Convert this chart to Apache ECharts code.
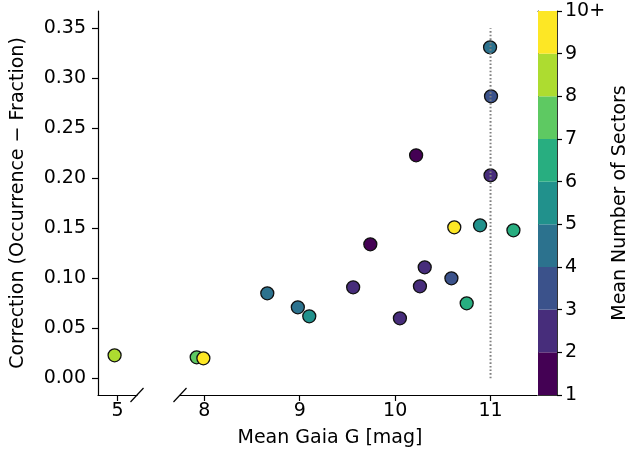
<!DOCTYPE html>
<html>
<head>
<meta charset="utf-8">
<script src="https://cdn.jsdelivr.net/npm/echarts@6/dist/echarts.min.js"></script>
<style>
  html, body { margin: 0; padding: 0; background: #fff; }
  #chart { width: 631px; height: 453px; }
</style>
</head>
<body>
<div id="chart"></div>
<script>
// data
const gaiaG = [4.97, 7.92, 7.99, 8.66, 8.98, 9.10, 9.56, 9.74, 10.05, 10.22,
  10.26, 10.31, 10.59, 10.62, 10.75, 10.89, 10.995, 11.005, 11.0, 11.24]
const correction = [0.023, 0.021, 0.020, 0.085, 0.071, 0.062, 0.091, 0.134, 0.060, 0.223,
  0.092, 0.111, 0.100, 0.151, 0.075, 0.153, 0.331, 0.282, 0.203, 0.148]
const sectors = [8.5, 7.5, 10, 4.5, 4.5, 5.5, 2.5, 1.5, 2.5, 1.5,
  2.5, 2.5, 3.5, 10, 6.5, 5.5, 4.5, 3.5, 2.5, 6.5]

const yTicks = [0, 0.05, 0.10, 0.15, 0.20, 0.25, 0.30, 0.35]
const xTicksLeft = [5]
const xTicksRight = [8, 9, 10, 11]
const binLabels = ['1', '2', '3', '4', '5', '6', '7', '8', '9', '10+']
const viridis9 = ['#440154', '#472d7b', '#3b528b', '#2c728e', '#21918c',
  '#28ae80', '#5ec962', '#addc30', '#fde725']
const cutG = 11 // dotted reference line
const cutTop = 0.35

const font = 'DejaVu Sans'
const fs = 19
const yMin = -0.0167
const yMax = 0.3673

const pts = gaiaG.map((g, i) => [g, correction[i], sectors[i]])
const leftPts = pts.filter(p => p[0] < 6)
const rightPts = pts.filter(p => p[0] >= 6)

const chart = echarts.init(document.getElementById('chart'))

const axisLine = { show: true, onZero: false, lineStyle: { color: '#000', width: 1.2 } }
const tickStyle = { show: true, length: 6, lineStyle: { color: '#000', width: 1.2 } }
const labelStyle = { color: '#000', fontFamily: font, fontSize: fs }
const cbLine = { show: true, onZero: false, lineStyle: { color: '#333', width: 1 } }

const marker = {
  type: 'scatter',
  symbolSize: 13,
  itemStyle: { borderColor: '#111', borderWidth: 1.3, opacity: 1 },
  z: 3
}

chart.setOption({
  animation: false,
  grid: [
    { left: 98, top: 11, width: 39, height: 384 },
    { left: 180, top: 11, width: 357, height: 384 },
    { left: 538, top: 11, width: 20, height: 384 }
  ],
  visualMap: {
    show: false,
    type: 'piecewise',
    dimension: 2,
    seriesIndex: [0, 1],
    pieces: viridis9.map((c, i) => i < 8
      ? { gte: i + 1, lt: i + 2, color: c }
      : { gte: i + 1, color: c })
  },
  xAxis: [
    {
      gridIndex: 0, type: 'value', min: 4.796, max: 5.205,
      axisLine, splitLine: { show: false },
      axisTick: Object.assign({ customValues: xTicksLeft }, tickStyle),
      axisLabel: Object.assign({ customValues: xTicksLeft, margin: 7 }, labelStyle)
    },
    {
      gridIndex: 1, type: 'value', min: 7.745, max: 11.487,
      axisLine, splitLine: { show: false },
      axisTick: Object.assign({ customValues: xTicksRight }, tickStyle),
      axisLabel: Object.assign({ customValues: xTicksRight, margin: 7 }, labelStyle)
    },
    {
      gridIndex: 2, type: 'category', data: ['c'], boundaryGap: true,
      axisLine: cbLine, axisTick: { show: false }, axisLabel: { show: false }
    },
    {
      gridIndex: 2, type: 'category', data: ['c'], position: 'top',
      axisLine: cbLine, axisTick: { show: false }, axisLabel: { show: false }
    }
  ],
  yAxis: [
    {
      gridIndex: 0, type: 'value', min: yMin, max: yMax,
      axisLine, splitLine: { show: false },
      axisTick: Object.assign({ customValues: yTicks }, tickStyle),
      axisLabel: Object.assign({ customValues: yTicks, margin: 12,
        formatter: v => v.toFixed(2) }, labelStyle),
      name: 'Correction (Occurrence \u2212 Fraction)',
      nameLocation: 'middle', nameGap: 70,
      nameTextStyle: { color: '#000', fontFamily: font, fontSize: fs }
    },
    {
      gridIndex: 1, type: 'value', min: yMin, max: yMax, show: false
    },
    {
      gridIndex: 2, type: 'value', min: 0, max: 9, interval: 1, position: 'right',
      axisLine: cbLine, splitLine: { show: false },
      axisTick: { show: true, length: 5, lineStyle: { color: '#000', width: 1.2 } },
      axisLabel: Object.assign({ margin: 8, formatter: v => binLabels[v] }, labelStyle),
      name: 'Mean Number of Sectors',
      nameLocation: 'middle', nameGap: 54,
      nameTextStyle: { color: '#000', fontFamily: font, fontSize: fs }
    },
    {
      gridIndex: 2, type: 'value', min: 0, max: 9, position: 'left',
      axisLine: cbLine, splitLine: { show: false },
      axisTick: { show: false }, axisLabel: { show: false }
    }
  ],
  series: [
    Object.assign({ xAxisIndex: 0, yAxisIndex: 0, data: leftPts }, marker),
    Object.assign({ xAxisIndex: 1, yAxisIndex: 1, data: rightPts }, marker),
    {
      type: 'line', xAxisIndex: 1, yAxisIndex: 1, z: 5,
      data: [[cutG, 0], [cutG, cutTop]],
      symbol: 'none', silent: true,
      lineStyle: { color: '#808080', width: 2, type: [1.6, 2] }
    }
  ].concat(viridis9.map(c => ({
    type: 'bar', xAxisIndex: 2, yAxisIndex: 2, stack: 'cb',
    barWidth: '100%', data: [1], itemStyle: { color: c }, z: 1
  })))
})

// x label and axis-break slashes at the ends of the two x-axis pieces
const pA = chart.convertToPixel({ xAxisIndex: 0, yAxisIndex: 0 }, [5.205, yMin])
const pB = chart.convertToPixel({ xAxisIndex: 1, yAxisIndex: 1 }, [7.745, yMin])
const slashes = [pA, pB].map((p, i) => ({
  id: 'brk' + i,
  type: 'line',
  shape: { x1: p[0] - 6.5, y1: p[1] + 7, x2: p[0] + 6.5, y2: p[1] - 7 },
  style: { stroke: '#000', lineWidth: 1.2 },
  z: 10
}))
chart.setOption({
  graphic: [{
    id: 'xname',
    type: 'text', x: 330, y: 438,
    style: {
      text: 'Mean Gaia G [mag]', fill: '#000', fontFamily: font, fontSize: fs,
      align: 'center', verticalAlign: 'middle'
    }
  }].concat(slashes)
})
</script>
</body>
</html>
